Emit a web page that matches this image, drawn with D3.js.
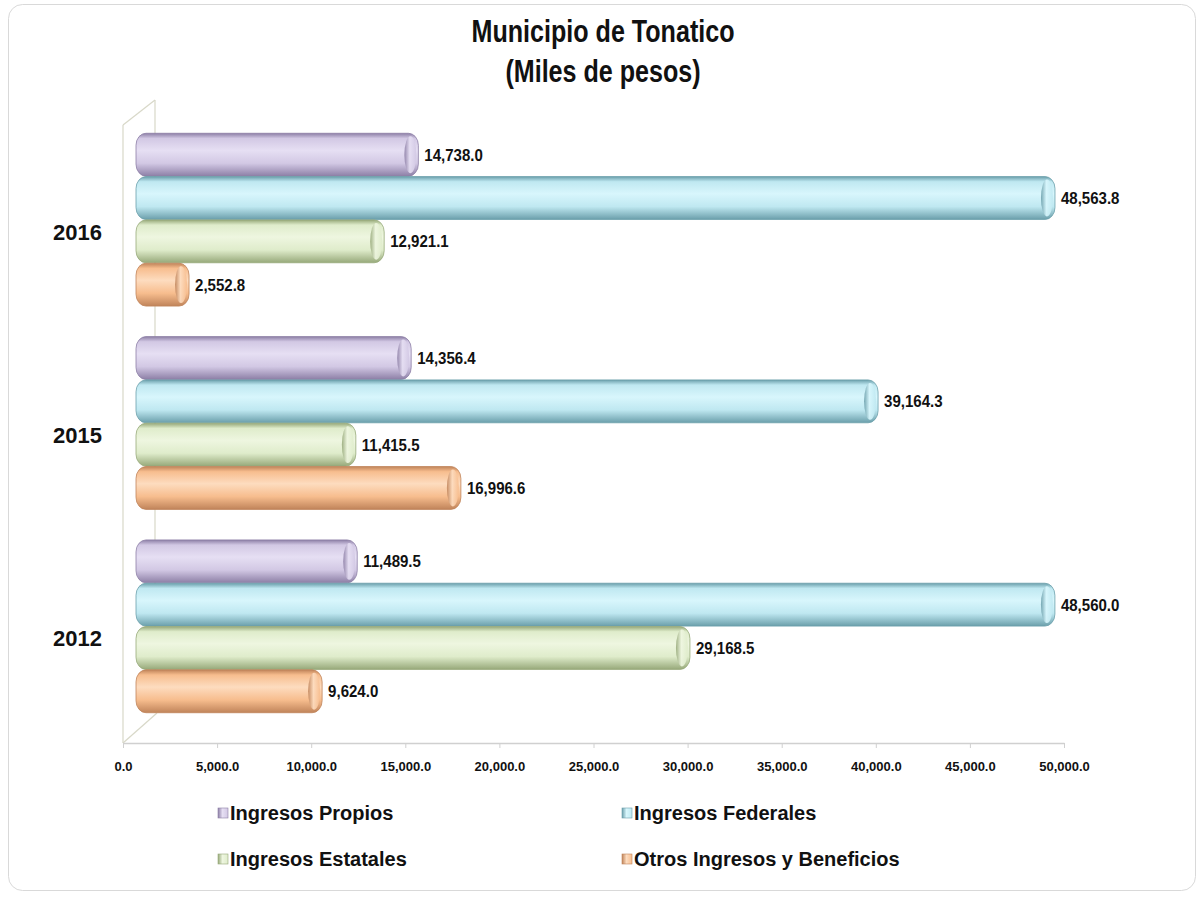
<!DOCTYPE html>
<html><head><meta charset="utf-8">
<script src="https://cdn.jsdelivr.net/npm/d3@7"></script>
<style>
body{margin:0;background:#fff;}
text{font-family:"Liberation Sans",Arial,sans-serif;}
</style></head>
<body><svg id="c" width="1203" height="899"></svg>
<script>
const years = ["2016","2015","2012"];
const seriesNames = ["Ingresos Propios","Ingresos Federales","Ingresos Estatales","Otros Ingresos y Beneficios"];
const propios   = [14738.0, 14356.4, 11489.5];
const federales = [48563.8, 39164.3, 48560.0];
const estatales = [12921.1, 11415.5, 29168.5];
const otros     = [2552.8, 16996.6, 9624.0];
const tickValues = [0,5000,10000,15000,20000,25000,30000,35000,40000,45000,50000];
const colors = [
  {light:"#e6dff3", mid:"#d2c8e4", dark:"#8d7fa6"},
  {light:"#d8f6fc", mid:"#bfe8f1", dark:"#6b9fab"},
  {light:"#eef6e0", mid:"#dfeccb", dark:"#97a97a"},
  {light:"#fddcbf", mid:"#f7bd8e", dark:"#c0845a"}
];
const seriesVals = [propios, federales, estatales, otros];

const svg = d3.select("#c");
const defs = svg.append("defs");

function sText(parent, x, y, sx, str){
  return parent.append("text").attr("transform",`translate(${x},${y}) scale(${sx},1)`).text(str);
}

// frame
svg.append("rect").attr("x",8.5).attr("y",4.5).attr("width",1187).attr("height",886)
  .attr("rx",14).attr("fill","#fff").attr("stroke","#d9d9d9").attr("stroke-width",1);

// title
sText(svg,603,42,0.81,"Municipio de Tonatico").attr("text-anchor","middle")
  .attr("font-size",31).attr("font-weight","bold").attr("fill","#111");
sText(svg,603,82,0.81,"(Miles de pesos)").attr("text-anchor","middle")
  .attr("font-size",31).attr("font-weight","bold").attr("fill","#111");

const x = d3.scaleLinear().domain([0,50000]).range([123,1064]);
const leftDX = 13, rightDX = 18;
const y = d3.scaleBand().domain(years).range([117,729]).paddingInner(0.15).paddingOuter(0.08);
const ySub = d3.scaleBand().domain(seriesNames).range([0,y.bandwidth()]).paddingInner(0.01);

// 3D walls
const g3 = svg.append("g").attr("stroke","#d8d8c8").attr("fill","none").attr("stroke-width",1.2);
g3.append("line").attr("x1",123).attr("y1",743).attr("x2",123).attr("y2",125);
g3.append("line").attr("x1",123).attr("y1",125).attr("x2",155).attr("y2",100);
g3.append("line").attr("x1",155).attr("y1",100).attr("x2",155).attr("y2",713);
g3.append("line").attr("x1",123).attr("y1",743).attr("x2",157).attr("y2",713);

// axis
const axis = d3.axisBottom(x).tickValues(tickValues).tickSize(5).tickSizeOuter(0)
  .tickFormat(d=>d3.format(",.1f")(d));
const ax = svg.append("g").attr("transform","translate(0,743)").call(axis);
ax.select(".domain").attr("stroke","#d0d0d0").attr("stroke-width",1.5);
ax.selectAll(".tick line").attr("stroke","#d0d0d0");
ax.selectAll(".tick text").attr("font-size",13).attr("font-weight","bold").attr("fill","#111")
  .attr("y",28).attr("dy","0");

// gradients
colors.forEach((c,i)=>{
  const lg = defs.append("linearGradient").attr("id","g"+i).attr("x1",0).attr("y1",0).attr("x2",0).attr("y2",1);
  lg.append("stop").attr("offset","0%").attr("stop-color",c.dark);
  lg.append("stop").attr("offset","12%").attr("stop-color",c.mid);
  lg.append("stop").attr("offset","40%").attr("stop-color",c.light);
  lg.append("stop").attr("offset","70%").attr("stop-color",c.mid);
  lg.append("stop").attr("offset","100%").attr("stop-color",c.dark);
  const cg = defs.append("linearGradient").attr("id","cap"+i).attr("x1",0).attr("y1",0).attr("x2",1).attr("y2",0);
  cg.append("stop").attr("offset","0%").attr("stop-color",c.dark);
  cg.append("stop").attr("offset","45%").attr("stop-color",c.light);
  cg.append("stop").attr("offset","100%").attr("stop-color",c.mid);
});

// bars
const barsG = svg.append("g");
years.forEach((yr,yi)=>{
  seriesNames.forEach((s,si)=>{
    const v = seriesVals[si][yi];
    const y0 = y(yr)+ySub(s);
    const h = ySub.bandwidth();
    const x0 = x(0)+leftDX;
    const x1 = x(v)+rightDX;
    barsG.append("rect").attr("x",x0).attr("y",y0).attr("width",Math.max(0,x1-x0)).attr("height",h)
      .attr("rx",10).attr("ry",12).attr("fill","url(#g"+si+")").attr("stroke",colors[si].dark).attr("stroke-width",0.8);
    barsG.append("ellipse").attr("cx",x1-8).attr("cy",y0+h/2).attr("rx",6).attr("ry",h/2-3)
      .attr("fill","url(#cap"+si+")").attr("opacity",0.9);
    sText(barsG, x1+6, y0+h/2+6, 0.94, d3.format(",.1f")(v))
      .attr("font-size",16).attr("font-weight","bold").attr("fill","#111");
  });
  svg.append("text").attr("x",102).attr("y",y(yr)+y.bandwidth()/2+20).attr("text-anchor","end")
    .attr("font-size",22).attr("font-weight","bold").attr("fill","#111").text(yr);
});

// legend
const legPos = [[218,813],[622,813],[218,859],[622,859]];
seriesNames.forEach((s,i)=>{
  const [lx,ly] = legPos[i];
  svg.append("rect").attr("x",lx).attr("y",ly-5).attr("width",10).attr("height",10)
    .attr("fill","url(#cap"+i+")").attr("stroke",colors[i].dark).attr("stroke-width",0.6);
  sText(svg, lx+12, ly+7, 1.0, s).attr("font-size",20).attr("font-weight","bold").attr("fill","#111");
});
</script></body></html>
